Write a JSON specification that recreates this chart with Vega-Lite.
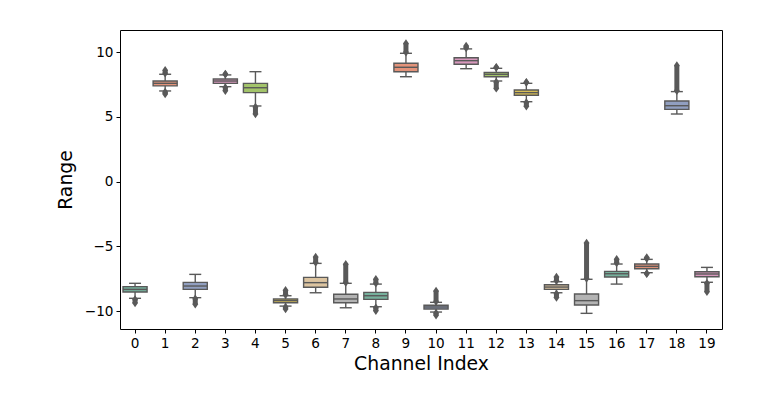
{
  "$schema": "https://vega.github.io/schema/vega-lite/v6.json",
  "width": 602,
  "height": 299,
  "autosize": {"type": "none"},
  "padding": {"left": 120, "top": 30, "right": 56, "bottom": 65},
  "background": "white",
  "config": {
    "view": {"stroke": "#000000", "strokeWidth": 1},
    "font": "DejaVu Sans",
    "axis": {
      "domain": false, "grid": false, "tickColor": "#000000", "tickSize": 4, "tickWidth": 1,
      "labelColor": "#000000", "labelFontSize": 13.6, "labelFont": "DejaVu Sans", "labelPadding": 3,
      "titleFontSize": 18.8, "titleFontWeight": "normal", "titleColor": "#000000", "titleFont": "DejaVu Sans"
    }
  },
  "datasets": {
    "boxes": [
      {"ch": 0, "q1": -8.52, "med": -8.32, "q3": -8.11, "lo": -9.01, "hi": -7.85},
      {"ch": 1, "q1": 7.40, "med": 7.60, "q3": 7.78, "lo": 7.01, "hi": 8.30},
      {"ch": 2, "q1": -8.32, "med": -8.06, "q3": -7.78, "lo": -8.96, "hi": -7.16},
      {"ch": 3, "q1": 7.60, "med": 7.78, "q3": 7.94, "lo": 7.34, "hi": 8.25},
      {"ch": 4, "q1": 6.88, "med": 7.26, "q3": 7.60, "lo": 5.85, "hi": 8.50},
      {"ch": 5, "q1": -9.35, "med": -9.19, "q3": -9.06, "lo": -9.61, "hi": -8.81},
      {"ch": 6, "q1": -8.16, "med": -7.80, "q3": -7.39, "lo": -8.58, "hi": -6.31},
      {"ch": 7, "q1": -9.35, "med": -9.06, "q3": -8.70, "lo": -9.74, "hi": -7.85},
      {"ch": 8, "q1": -9.09, "med": -8.81, "q3": -8.55, "lo": -9.66, "hi": -7.91},
      {"ch": 9, "q1": 8.50, "med": 8.84, "q3": 9.15, "lo": 8.11, "hi": 9.92},
      {"ch": 10, "q1": -9.84, "med": -9.68, "q3": -9.55, "lo": -10.07, "hi": -9.32},
      {"ch": 11, "q1": 9.07, "med": 9.35, "q3": 9.58, "lo": 8.73, "hi": 10.26},
      {"ch": 12, "q1": 8.11, "med": 8.30, "q3": 8.45, "lo": 7.78, "hi": 8.76},
      {"ch": 13, "q1": 6.68, "med": 6.88, "q3": 7.09, "lo": 6.18, "hi": 7.60},
      {"ch": 14, "q1": -8.32, "med": -8.14, "q3": -7.96, "lo": -8.58, "hi": -7.73},
      {"ch": 15, "q1": -9.53, "med": -9.19, "q3": -8.68, "lo": -10.17, "hi": -7.54},
      {"ch": 16, "q1": -7.36, "med": -7.11, "q3": -6.93, "lo": -7.91, "hi": -6.36},
      {"ch": 17, "q1": -6.72, "med": -6.54, "q3": -6.36, "lo": -7.03, "hi": -6.00},
      {"ch": 18, "q1": 5.59, "med": 5.87, "q3": 6.24, "lo": 5.23, "hi": 6.96},
      {"ch": 19, "q1": -7.34, "med": -7.13, "q3": -6.96, "lo": -7.77, "hi": -6.62}
    ],
    "fliers": [
      {"ch": 0, "a": -9.10, "b": -9.38},
      {"ch": 1, "a": 8.38, "b": 8.61},
      {"ch": 1, "a": 6.93, "b": 6.77},
      {"ch": 2, "a": -9.05, "b": -9.46},
      {"ch": 3, "a": 8.30, "b": 8.32},
      {"ch": 3, "a": 7.28, "b": 7.03},
      {"ch": 4, "a": 5.78, "b": 5.23},
      {"ch": 5, "a": -8.74, "b": -8.39},
      {"ch": 5, "a": -9.68, "b": -9.84},
      {"ch": 6, "a": -6.24, "b": -5.82},
      {"ch": 7, "a": -7.78, "b": -6.38},
      {"ch": 8, "a": -7.84, "b": -7.54},
      {"ch": 8, "a": -9.73, "b": -9.97},
      {"ch": 9, "a": 10.00, "b": 10.67},
      {"ch": 10, "a": -9.25, "b": -8.44},
      {"ch": 10, "a": -10.14, "b": -10.31},
      {"ch": 11, "a": 10.33, "b": 10.49},
      {"ch": 12, "a": 8.82, "b": 8.85},
      {"ch": 12, "a": 7.71, "b": 7.21},
      {"ch": 13, "a": 7.66, "b": 7.68},
      {"ch": 13, "a": 6.11, "b": 5.82},
      {"ch": 14, "a": -7.66, "b": -7.36},
      {"ch": 14, "a": -8.65, "b": -8.94},
      {"ch": 15, "a": -7.47, "b": -4.73},
      {"ch": 16, "a": -6.29, "b": -5.99},
      {"ch": 17, "a": -5.93, "b": -5.86},
      {"ch": 17, "a": -7.10, "b": -7.12},
      {"ch": 18, "a": 7.03, "b": 8.97},
      {"ch": 19, "a": -7.84, "b": -8.50}
    ]
  },
  "encoding": {
    "x": {
      "field": "ch", "type": "ordinal",
      "scale": {"domain": [0,1,2,3,4,5,6,7,8,9,10,11,12,13,14,15,16,17,18,19], "paddingInner": 0, "paddingOuter": 0},
      "axis": {"labelAngle": 0, "title": "Channel Index", "titleY": 34, "titleBaseline": "middle"}
    }
  },
  "layer": [
    {
      "data": {"name": "boxes"},
      "mark": {"type": "rule", "color": "#595959", "strokeWidth": 1.4},
      "encoding": {
        "y": {
          "field": "lo", "type": "quantitative",
          "scale": {"domain": [-11.38, 11.72], "nice": false, "zero": false},
          "axis": {"values": [-10, -5, 0, 5, 10], "title": "Range", "labelExpr": "replace(datum.label, '-', '\u2212')", "titleX": -55, "titleY": 149.5, "titleAngle": -90, "titleAlign": "center", "titleBaseline": "middle"}
        },
        "y2": {"field": "hi"}
      }
    },
    {
      "data": {"name": "fliers"},
      "mark": {"type": "rule", "color": "#595959", "strokeWidth": 5},
      "encoding": {"y": {"field": "a", "type": "quantitative"}, "y2": {"field": "b"}}
    },
    {
      "data": {"name": "fliers"},
      "transform": [{"fold": ["a", "b"], "as": ["k", "v"]}],
      "mark": {"type": "point", "shape": "M0,-1L0.7,0L0,1L-0.7,0Z", "filled": true, "size": 72, "color": "#595959", "opacity": 1},
      "encoding": {"y": {"field": "v", "type": "quantitative"}}
    },
    {
      "data": {"name": "boxes"},
      "mark": {"type": "bar", "width": {"band": 0.8}, "stroke": "#595959", "strokeWidth": 1.4},
      "encoding": {
        "y": {"field": "q1", "type": "quantitative"},
        "y2": {"field": "q3"},
        "color": {
          "field": "ch", "type": "nominal", "legend": null,
          "scale": {
            "domain": [0,1,2,3,4,5,6,7,8,9,10,11,12,13,14,15,16,17,18,19],
            "range": ["#76b09c","#e3937a","#919fc0","#d898bd","#a3c46a","#dfc456","#dcc4a0","#b3b3b3","#76b09c","#e3937a","#919fc0","#d898bd","#a3c46a","#dfc456","#dcc4a0","#b3b3b3","#76b09c","#e3937a","#919fc0","#d898bd"]
          }
        },
        "fillOpacity": {"value": 1}
      }
    },
    {
      "data": {"name": "boxes"},
      "mark": {"type": "tick", "color": "#595959", "size": 24, "thickness": 1.4, "opacity": 1},
      "encoding": {"y": {"field": "med", "type": "quantitative"}}
    },
    {
      "data": {"name": "boxes"},
      "mark": {"type": "tick", "color": "#595959", "size": 12, "thickness": 1.4, "opacity": 1},
      "encoding": {"y": {"field": "lo", "type": "quantitative"}}
    },
    {
      "data": {"name": "boxes"},
      "mark": {"type": "tick", "color": "#595959", "size": 12, "thickness": 1.4, "opacity": 1},
      "encoding": {"y": {"field": "hi", "type": "quantitative"}}
    }
  ]
}
